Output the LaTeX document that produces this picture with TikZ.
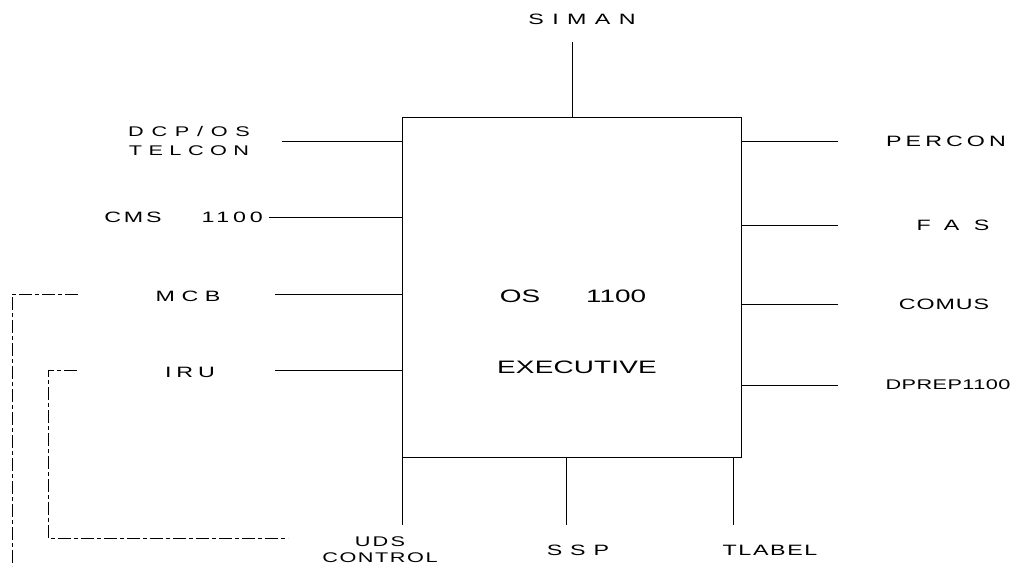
\documentclass[tikz,border=0pt]{standalone}
\usepackage{fontspec}
\setmainfont{Liberation Sans}[FakeStretch=1.55]
\newcommand\lsp[1]{\addfontfeatures{LetterSpace=#1}}
\begin{document}
\begin{tikzpicture}[x=1pt,y=-1pt,
  lbl/.style={font=\fontsize{15}{18}\selectfont, inner sep=0pt, align=center},
  small/.style={lbl, font=\fontsize{14}{19}\selectfont},
  big/.style={lbl, font=\fontsize{18}{22}\selectfont},
  conn/.style={line width=0.7pt},
  loop/.style={line width=0.6pt, dash pattern=on 13pt off 3pt on 4pt off 3pt}]
\useasboundingbox (0,0) rectangle (1012,566);
% main box
\node[draw, line width=0.8pt, minimum width=339pt, minimum height=340pt, inner sep=0pt] (exec) at (571.5,287) {};
\node[big] (os) at (573,296) {\lsp{0}OS\hspace{46pt}\lsp{0}1100};
\node[big] (ex) at (577,367) {\lsp{1}EXECUTIVE};
% top
\node[lbl] (siman) at (582,19) {\lsp{56}SIMAN};
\coordinate (simanend) at (572,42);
\draw[conn] (simanend) -- (simanend |- exec.north);
% left
\node[small] (dcp) at (189,141) {\lsp{55}DCP/OS\\\lsp{46}TELCON};
\coordinate (dcpend) at (282,141);
\draw[conn] (dcpend) -- (dcpend -| exec.west);
\node[lbl, anchor=east] (cms) at (263,217) {\lsp{18}CMS\hspace{40pt}\lsp{25}1100};
\coordinate (cmsend) at (269,217);
\draw[conn] (cmsend) -- (cmsend -| exec.west);
\node[lbl] (mcb) at (188,296) {\lsp{44}MCB};
\coordinate (mcbend) at (275,294);
\draw[conn] (mcbend) -- (mcbend -| exec.west);
\node[lbl] (iru) at (190,372) {\lsp{33}IRU};
\coordinate (iruend) at (275,370);
\draw[conn] (iruend) -- (iruend -| exec.west);
% loops
\coordinate (outA) at (78,294);
\coordinate (outB) at (12,566);
\draw[loop] (outA) -- (outB |- outA) -- (outB);
\coordinate (inA) at (77,370);
\coordinate (inB) at (48,538);
\coordinate (inC) at (288,538);
\draw[loop] (inA) -- (inB |- inA) -- (inB) -- (inC);
% right
\node[lbl] (percon) at (946,141) {\lsp{27}PERCON};
\node[lbl] (fas) at (953,225) {\lsp{96}FAS};
\node[lbl] (comus) at (944,304) {\lsp{6}COMUS};
\node[small] (dprep) at (948,385) {\lsp{3}DPREP1100};
\foreach \n in {percon,fas,comus,dprep}{
  \coordinate (\n end) at (838,0 |- \n);
  \draw[conn] (exec.east |- \n end) -- (\n end);
}
% bottom
\node[small, font=\fontsize{14}{16}\selectfont] (uds) at (380,550) {\lsp{15}UDS\\\lsp{11}CONTROL};
\node[lbl] (ssp) at (578,550) {\lsp{52}SSP};
\node[lbl] (tlabel) at (770,550) {\lsp{11}TLABEL};
\coordinate (udsend) at (402,525);
\coordinate (sspend) at (566,525);
\coordinate (tlend) at (733,525);
\draw[conn] (udsend |- exec.south) -- (udsend);
\draw[conn] (sspend |- exec.south) -- (sspend);
\draw[conn] (tlend |- exec.south) -- (tlend);
\end{tikzpicture}
\end{document}
